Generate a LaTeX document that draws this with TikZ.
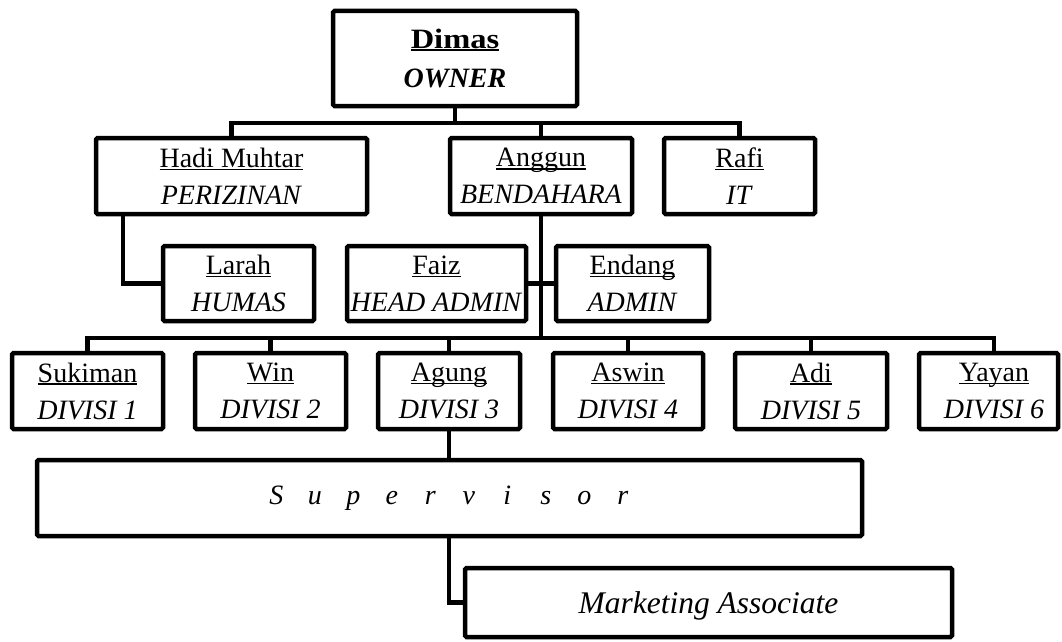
\documentclass[tikz,border=0pt]{standalone}
\usepackage{fontspec}
\setmainfont{Liberation Serif}
\newcommand{\myul}[2][1.4pt]{\setbox0=\hbox{#2}\leavevmode\rlap{\rule[-2.8pt]{\wd0}{#1}}\box0}
\newcommand{\spl}[1]{\makebox[38.5pt][c]{#1}}
\begin{document}
\begin{tikzpicture}[x=1pt,y=-1pt,
  box/.style={draw, line width=4.5pt, rounded corners=1.5pt, align=center, inner sep=0pt,
              font=\fontsize{28}{37}\selectfont},
  conn/.style={draw, line width=4.5pt}]
\useasboundingbox (0,0) rectangle (1062,642);

% level 0
\node[box, minimum width=244pt, minimum height=95pt] (dimas) at (455,58.5)
  {\myul[2pt]{\scalebox{1.16}[1]{\textbf{Dimas}}}\\[2pt]\textbf{\textit{OWNER}}};
% level 1
\node[box, minimum width=271pt, minimum height=76pt] (hadi) at (231.5,176)
  {\myul{Hadi Muhtar}\\\textit{PERIZINAN}};
\node[box, minimum width=182pt, minimum height=76pt] (anggun) at (541,176)
  {\myul{Anggun}\\\textit{BENDAHARA}};
\node[box, minimum width=151pt, minimum height=76pt] (rafi) at (739.5,176)
  {\myul{Rafi}\\\textit{IT}};
% level 2
\node[box, minimum width=151pt, minimum height=75pt] (larah) at (238.5,283.5)
  {\myul{Larah}\\\textit{HUMAS}};
\node[box, minimum width=179pt, minimum height=75pt] (faiz) at (436.5,283.5)
  {\myul{Faiz}\\\textit{HEAD ADMIN}};
\node[box, minimum width=153pt, minimum height=75pt] (endang) at (632.5,283.5)
  {\myul{Endang}\\\textit{ADMIN}};
% divisions
\node[box, minimum width=151pt, minimum height=76pt] (div1) at (87.5,391)
  {\myul{Sukiman}\\\textit{DIVISI 1}};
\node[box, minimum width=151pt, minimum height=76pt] (div2) at (270.5,391)
  {\myul{Win}\\\textit{DIVISI 2}};
\node[box, minimum width=142pt, minimum height=76pt] (div3) at (449,391)
  {\myul{Agung}\\\textit{DIVISI 3}};
\node[box, minimum width=150pt, minimum height=76pt] (div4) at (628,391)
  {\myul{Aswin}\\\textit{DIVISI 4}};
\node[box, minimum width=152pt, minimum height=76pt] (div5) at (811,391)
  {\myul{Adi}\\\textit{DIVISI 5}};
\node[box, minimum width=139pt, minimum height=76pt] (div6) at (988.5,391)
  {\hspace*{11pt}\myul{Yayan}\\\hspace*{11pt}\textit{DIVISI 6}};
% supervisor, marketing
\node[box, minimum width=825pt, minimum height=76pt] (sup) at (449.5,498)
  {\itshape\spl{S}\spl{u}\spl{p}\spl{e}\spl{r}\spl{v}\spl{i}\spl{s}\spl{o}\spl{r}};
\node[box, minimum width=487pt, minimum height=69pt, text depth=0pt,
      font=\fontsize{31.5}{37}\selectfont] (mkt) at (708.5,602.5)
  {\textit{Marketing Associate}};

% bus coordinates
\coordinate (b1) at (455,123);
\coordinate (b2) at (541,338);

% connectors
\draw[conn] (dimas.south) -- (b1);
\draw[conn] (hadi.north) |- (b1) -| (rafi.north);
\draw[conn] (anggun.north) -- (anggun.north |- b1);
\draw[conn] ([xshift=-108.5pt]hadi.south) |- (larah.west);
\draw[conn] (anggun.south) -- (b2);
\draw[conn] (faiz.east) -- (endang.west);
\draw[conn] (div1.north) |- (b2) -| ([xshift=5.5pt]div6.north);
\draw[conn] (div2.north) -- (div2.north |- b2);
\draw[conn] (div3.north) -- (div3.north |- b2);
\draw[conn] (div4.north) -- (div4.north |- b2);
\draw[conn] (div5.north) -- (div5.north |- b2);
\draw[conn] (div3.south) -- (div3.south |- sup.north);
\draw[conn] (div3.south |- sup.south) |- (mkt.west);
\end{tikzpicture}
\end{document}
